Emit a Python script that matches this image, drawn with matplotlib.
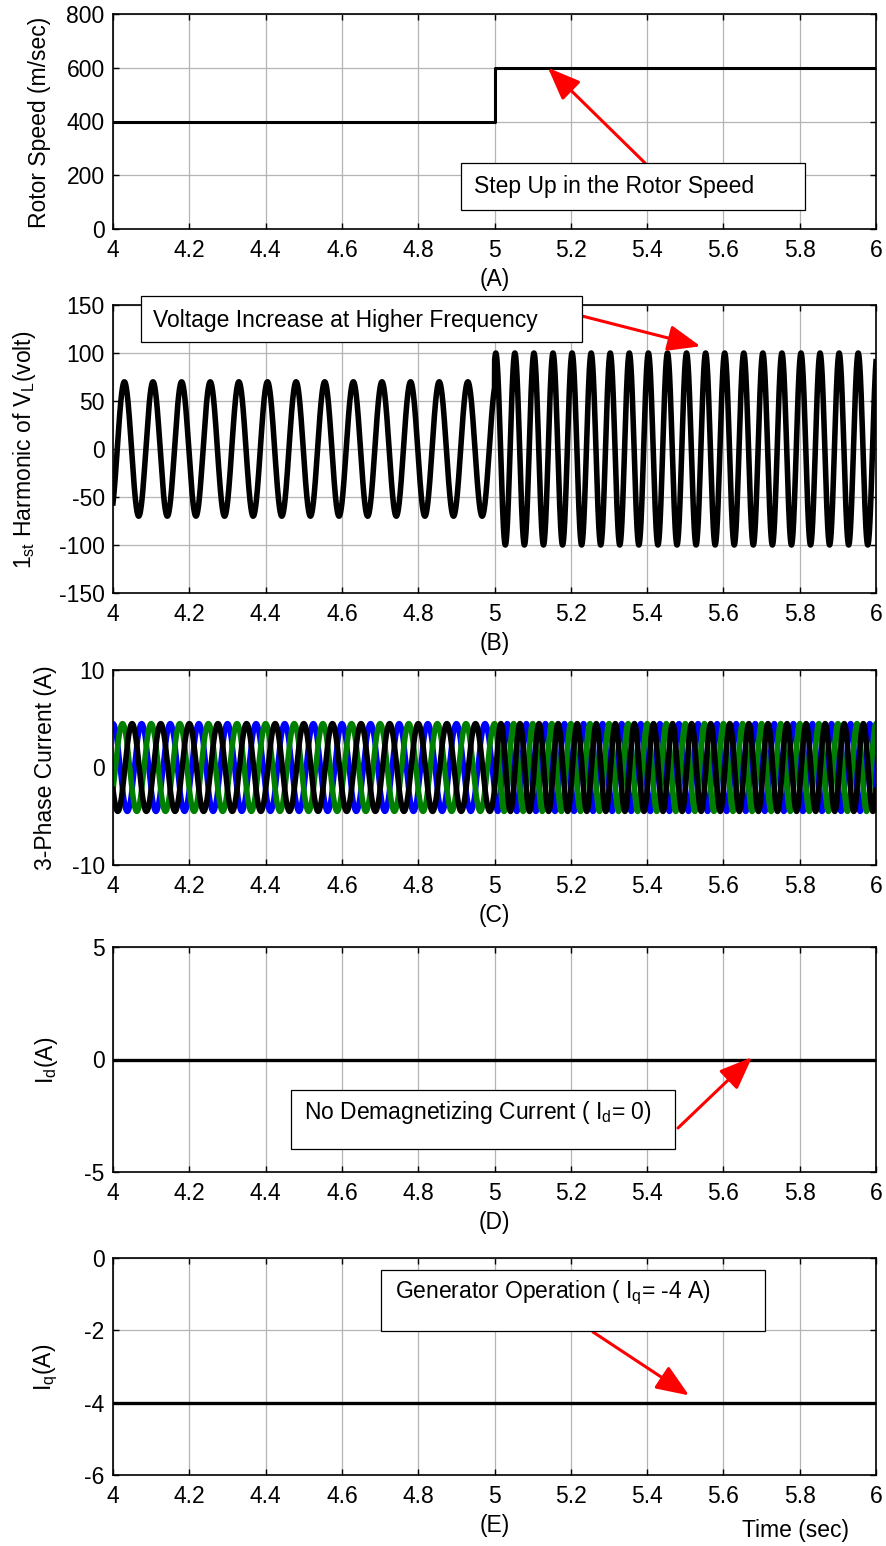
import numpy as np
import matplotlib
matplotlib.use("Agg")
import matplotlib.pyplot as plt
from matplotlib.patches import Rectangle

plt.rcParams["font.family"] = ["Liberation Sans", "DejaVu Sans"]
plt.rcParams["mathtext.fontset"] = "custom"
plt.rcParams["mathtext.rm"] = "Liberation Sans"
plt.rcParams["mathtext.it"] = "Liberation Sans"
plt.rcParams["mathtext.default"] = "rm"
plt.rcParams["axes.unicode_minus"] = False

# ---- signal data ----
t_start, t_step, t_end = 4.0, 5.0, 6.0
speed_before, speed_after = 400.0, 600.0          # rotor speed (m/sec)
vl_amp_before, vl_amp_after = 70.0, 100.0          # 1st harmonic of V_L (volt)
elec_freq_before, elec_freq_after = 13.33, 20.0    # electrical frequency (Hz)
vl_phase0 = -0.93                                  # rad at t = 4 s
i_amp = 4.5                                        # phase current amplitude (A)
i_phase0 = 1.57                                    # rad at t = 4 s (phase a)
id_value = 0.0                                     # d-axis current (A)
iq_value = -4.0                                    # q-axis current (A)
sample_dt = 0.0005                                 # simulation output step (s)

xticks = [4, 4.2, 4.4, 4.6, 4.8, 5, 5.2, 5.4, 5.6, 5.8, 6]
xticklabels = ["4", "4.2", "4.4", "4.6", "4.8", "5", "5.2", "5.4", "5.6", "5.8", "6"]

W, H = 886, 1546
fig = plt.figure(figsize=(W / 100, H / 100), dpi=100)


def fx(x):
    return x / W


def fy(y):
    return 1 - y / H


def add_axes(top, bottom, left=113, right=876):
    return fig.add_axes([fx(left), fy(bottom), fx(right) - fx(left), (bottom - top) / H])


FS = 16.5


def style(ax, ylim, yticks, label):
    ax.set_xlim(t_start, t_end)
    ax.set_ylim(*ylim)
    ax.set_xticks(xticks)
    ax.set_xticklabels(xticklabels)
    ax.set_yticks(yticks)
    ax.grid(True, color="#b4b4b4", linewidth=0.9, linestyle="-")
    ax.set_axisbelow(True)
    ax.tick_params(direction="in", length=4, width=1.0, top=True, right=True,
                   labelsize=FS)
    ax.tick_params(axis="x", pad=7.5)
    ax.tick_params(axis="y", pad=6)
    for s in ax.spines.values():
        s.set_linewidth(1.2)
    ax.set_xlabel(label, fontsize=FS, labelpad=4)


def ylabel(x, y, text):
    fig.text(fx(x), fy(y), text, fontsize=FS, rotation=90, ha="center", va="center")


def phase_track(t, f1, f2, p0):
    # phase is continuous across the speed step
    return np.where(t < t_step,
                    p0 + 2 * np.pi * f1 * (t - t_start),
                    p0 + 2 * np.pi * f1 * (t_step - t_start) + 2 * np.pi * f2 * (t - t_step))


ts = np.arange(t_start, t_end + sample_dt, sample_dt)

# ---- (A) rotor speed ----
axA = add_axes(14, 229)
axA.plot([t_start, t_step, t_step, t_end],
         [speed_before, speed_before, speed_after, speed_after], color="k", lw=2.2)
style(axA, (0, 800), [0, 200, 400, 600, 800], "(A)")
ylabel(40, 122, "Rotor Speed (m/sec)")

# ---- (B) 1st harmonic of line voltage ----
axB = add_axes(305, 593)
ph = phase_track(ts, elec_freq_before, elec_freq_after, vl_phase0)
amp = np.where(ts < t_step, vl_amp_before, vl_amp_after)
axB.plot(ts, amp * np.sin(ph), color="k", lw=4.0, solid_joinstyle="round")
style(axB, (-150, 150), [-150, -100, -50, 0, 50, 100, 150], "(B)")
ylabel(25, 450, r"1$_{\mathrm{st}}$ Harmonic of V$_{\mathrm{L}}$(volt)")

# ---- (C) three-phase currents (a: blue, b: green, c: black) ----
axC = add_axes(670, 865)
phc = phase_track(ts, elec_freq_before, elec_freq_after, i_phase0)
for k, col in zip([0, 1, 2], ["#0000ff", "#008000", "k"]):
    axC.plot(ts, i_amp * np.sin(phc - 2 * np.pi * k / 3), color=col, lw=4.0,
             solid_joinstyle="round")
style(axC, (-10, 10), [-10, 0, 10], "(C)")
ylabel(46, 768, "3-Phase Current (A)")

# ---- (D) d-axis current ----
axD = add_axes(947, 1172)
axD.plot([t_start, t_end], [id_value, id_value], color="k", lw=2.4)
style(axD, (-5, 5), [-5, 0, 5], "(D)")
ylabel(46, 1060, r"I$_{\mathrm{d}}$(A)")

# ---- (E) q-axis current ----
axE = add_axes(1258, 1475)
axE.plot([t_start, t_end], [iq_value, iq_value], color="k", lw=2.4)
style(axE, (-6, 0), [-6, -4, -2, 0], "(E)")
ylabel(46, 1367, r"I$_{\mathrm{q}}$(A)")
fig.text(fx(795), fy(1530), "Time (sec)", fontsize=FS, ha="center", va="center")


# ---- callout boxes with red arrows ----
def callout(box, text_xy, text, ax, tip, tail):
    x0, y0, x1, y1 = box
    fig.patches.append(Rectangle((fx(x0), fy(y1)), fx(x1) - fx(x0), (y1 - y0) / H,
                                 transform=fig.transFigure, facecolor="white",
                                 edgecolor="black", linewidth=0.9, zorder=5))
    fig.text(fx(text_xy[0]), fy(text_xy[1]), text, fontsize=FS, ha="left",
             va="center", zorder=6)
    ax.annotate("", xy=tip, xycoords="data",
                xytext=(fx(tail[0]), fy(tail[1])), textcoords="figure fraction",
                arrowprops=dict(arrowstyle="-|>,head_length=1.0,head_width=0.4",
                                color="red", lw=2.2, mutation_scale=20,
                                shrinkA=0, shrinkB=0),
                annotation_clip=False)


callout((461, 163, 805, 210), (474, 186), "Step Up in the Rotor Speed",
        axA, (5.14, 600), (645, 163))
callout((141, 296, 582, 342), (153, 320), "Voltage Increase at Higher Frequency",
        axB, (5.54, 107), (582, 316))
callout((291, 1090, 675, 1149), (304, 1113),
        r"No Demagnetizing Current ( I$_{\mathrm{d}}$= 0)",
        axD, (5.675, 0.1), (678, 1128))
callout((381, 1270, 765, 1331), (395, 1293),
        r"Generator Operation ( I$_{\mathrm{q}}$= -4 A)",
        axE, (5.51, -3.8), (593, 1332))

fig.savefig("out.png", dpi=100, facecolor="white")
